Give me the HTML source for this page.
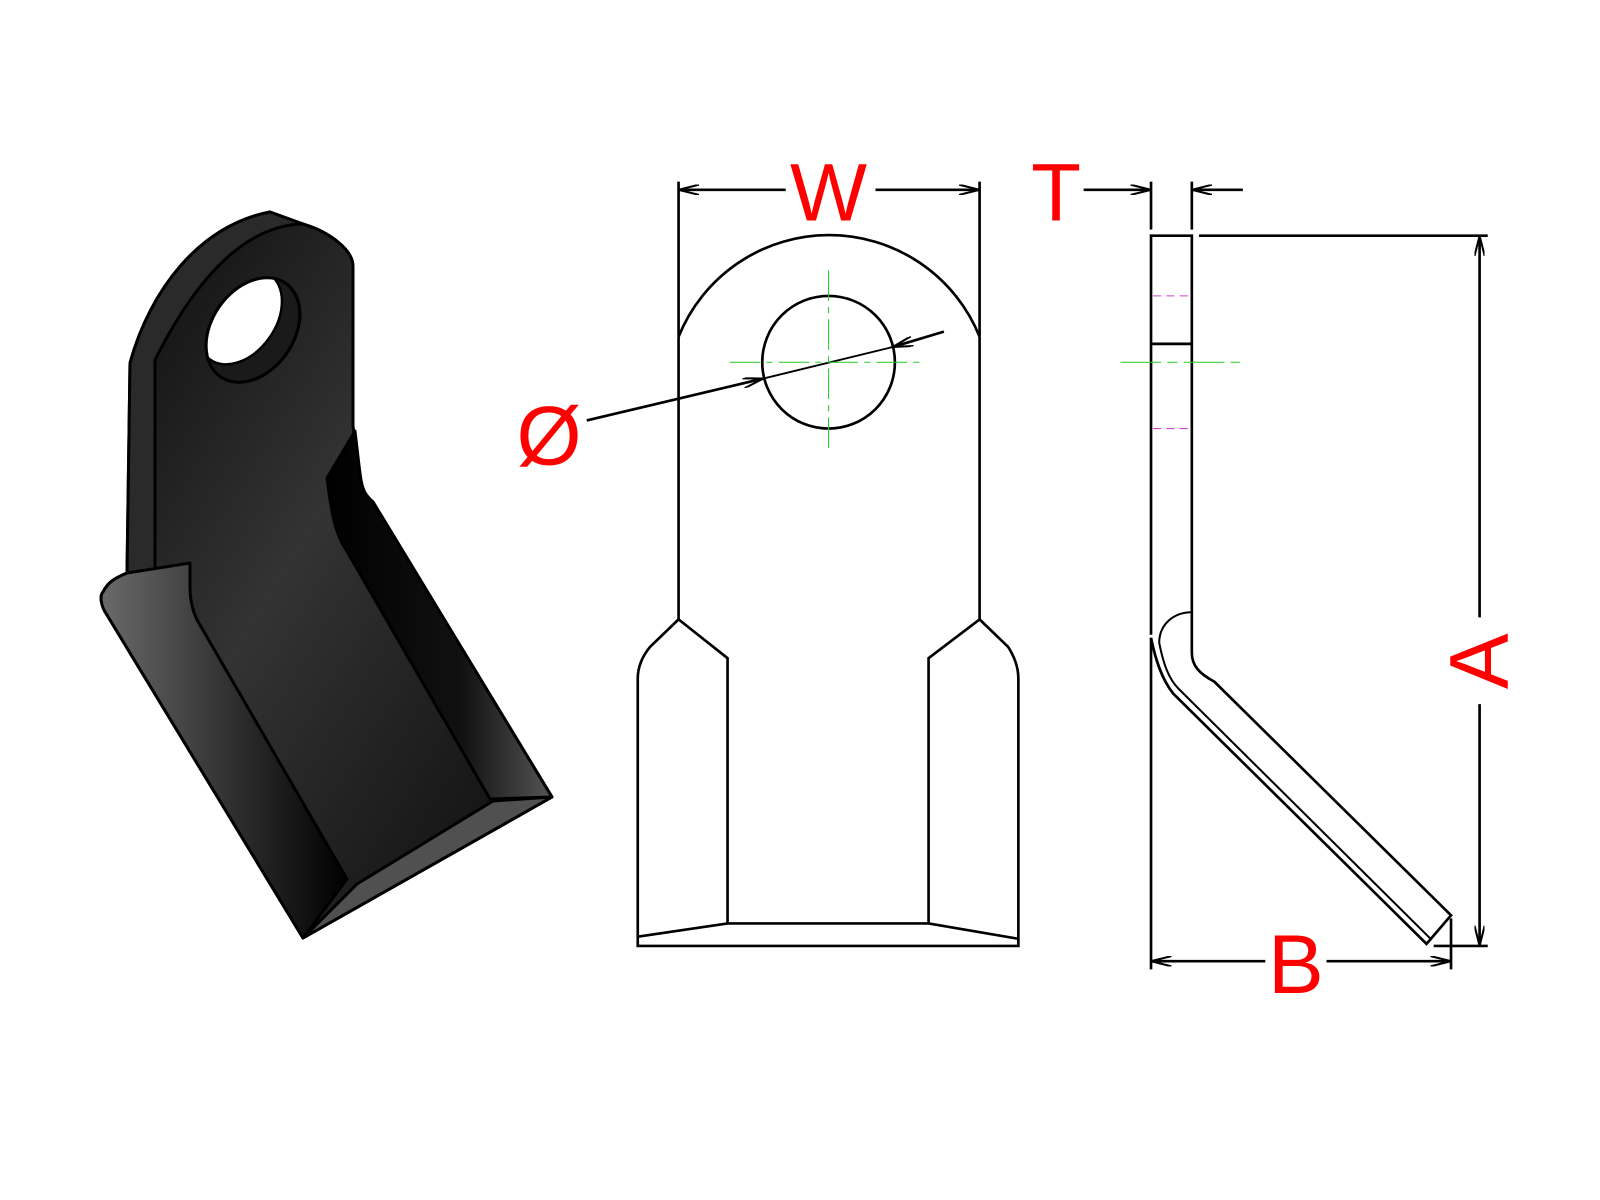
<!DOCTYPE html>
<html><head><meta charset="utf-8"><style>html,body{margin:0;padding:0;background:#fff}svg{display:block}</style></head>
<body>
<svg width="1600" height="1200" viewBox="0 0 1568 1176" xmlns="http://www.w3.org/2000/svg">
<defs>
<linearGradient id="gf" x1="0" y1="0" x2="1" y2="1"><stop offset="0" stop-color="#0a0a0a"/><stop offset="0.45" stop-color="#333"/><stop offset="1" stop-color="#0a0a0a"/></linearGradient>
<linearGradient id="gl" x1="0" y1="0" x2="1" y2="0"><stop offset="0" stop-color="#6a6a6a"/><stop offset="0.5" stop-color="#333"/><stop offset="1" stop-color="#000"/></linearGradient>
<linearGradient id="gr" x1="0" y1="0" x2="1" y2="0"><stop offset="0" stop-color="#000"/><stop offset="0.6" stop-color="#111"/><stop offset="1" stop-color="#555"/></linearGradient>
<clipPath id="hc"><ellipse cx="253" cy="330" rx="41" ry="57" transform="rotate(35 253 330)"/></clipPath>
<marker id="ar" viewBox="0 0 20 10" refX="20" refY="5" markerWidth="20" markerHeight="10" markerUnits="userSpaceOnUse" orient="auto"><path d="M0,0 L20,5 L0,10" fill="none" stroke="#000" stroke-width="2"/></marker>
</defs>

<!-- 3D view (original coords) -->
<g transform="scale(0.98)" stroke="#000" stroke-width="3" stroke-linejoin="round">
<path d="M130,363 C150,290 200,225 270,212 L303,224 C330,232 353,250 353,266 L353,426 L360,474 C362,490 365,495 373,502 L552,797 L303,938 L107,615 C100,605 100,595 103,592 C108,582 115,578 127,573 Z" fill="url(#gf)"/>
<path d="M130,363 C150,290 200,225 270,212 L303,224 C250,225 200,270 155,360 L155,572 L127,573 Z" fill="#2a2a2a"/>
<path d="M327,478 C330,500 333,530 345,548 L490,799 L552,797 L373,502 C365,495 362,490 360,474 L355,431 C345,448 335,465 327,478 Z" fill="url(#gr)"/>
<path d="M127,573 L190,563 L190,587 C190,605 195,617 200,625 L347,879 L303,938 L107,615 C100,605 100,595 103,592 C108,582 115,578 127,573 Z" fill="url(#gl)"/>
<path d="M303,938 L357,884 L493,801 L552,797 Z" fill="#505050"/>
<ellipse cx="253" cy="330" rx="41" ry="57" transform="rotate(35 253 330)" fill="#1a1a1a"/>
<g clip-path="url(#hc)"><ellipse cx="240" cy="317" rx="36" ry="52" transform="rotate(35 240 317)" fill="#fff" stroke="#000" stroke-width="2.5"/></g>
<ellipse cx="253" cy="330" rx="41" ry="57" transform="rotate(35 253 330)" fill="none"/>
</g>

<!-- front view -->
<g fill="none" stroke="#000" stroke-width="2.6">
<line x1="665" y1="178" x2="665" y2="330"/><line x1="960" y1="178" x2="960" y2="330"/>
<line x1="770" y1="186" x2="665" y2="186" marker-end="url(#ar)"/>
<line x1="858" y1="186" x2="960" y2="186" marker-end="url(#ar)"/>
<path d="M665,330 A159,159 0 0 1 960,330"/>
<path d="M665,330 L665,607 L637,634 C628,645 625,655 625,665 L625,927 L998,927 L998,665 C998,655 995,645 988,634 L960,607 L960,330"/>
<path d="M665,607 L713,645 L713,905 M960,607 L910,645 L910,905 M625,918 L713,905 L910,905 L998,920"/>
<circle cx="812" cy="355" r="65"/>
<line x1="575" y1="412" x2="748" y2="371" marker-end="url(#ar)"/>
<line x1="925" y1="325" x2="875" y2="340" marker-end="url(#ar)"/>
<line x1="748" y1="371" x2="875" y2="340" stroke-width="1.8"/>
</g>
<g stroke="#2c2" stroke-width="1" stroke-dasharray="30,6,6,6" fill="none">
<line x1="715" y1="355" x2="905" y2="355"/><line x1="812" y1="265" x2="812" y2="440"/>
</g>

<!-- side view -->
<g fill="none" stroke="#000" stroke-width="2.6">
<line x1="1128" y1="178" x2="1128" y2="225"/><line x1="1168" y1="178" x2="1168" y2="225"/>
<line x1="1062" y1="186" x2="1128" y2="186" marker-end="url(#ar)"/>
<line x1="1218" y1="186" x2="1168" y2="186" marker-end="url(#ar)"/>
<path d="M1128,622 L1128,231 L1168,231 L1168,640 C1168,652 1175,660 1190,668 L1422,897 L1398,925 L1150,680 C1138,665 1132,645 1128,625"/>
<path d="M1136,630 C1140,650 1145,665 1155,675 L1403,921" stroke-width="2"/>
<path d="M1136,630 C1136,612 1150,600 1168,600" stroke-width="2"/>
<line x1="1128" y1="337" x2="1168" y2="337"/>
<line x1="1128" y1="625" x2="1128" y2="950"/>
<line x1="1422" y1="900" x2="1422" y2="950"/>
<line x1="1240" y1="942" x2="1128" y2="942" marker-end="url(#ar)"/>
<line x1="1300" y1="942" x2="1422" y2="942" marker-end="url(#ar)"/>
<line x1="1175" y1="231" x2="1458" y2="231"/>
<line x1="1405" y1="927" x2="1458" y2="927"/>
<line x1="1450" y1="605" x2="1450" y2="231" marker-end="url(#ar)"/>
<line x1="1450" y1="690" x2="1450" y2="927" marker-end="url(#ar)"/>
</g>
<g stroke="#c4c" stroke-width="1" stroke-dasharray="8,5"><line x1="1130" y1="290" x2="1168" y2="290"/><line x1="1130" y1="420" x2="1168" y2="420"/></g>
<line x1="1098" y1="355" x2="1215" y2="355" stroke="#2c2" stroke-width="1" stroke-dasharray="40,6,10,6"/>

<!-- labels -->
<g fill="#f00" font-family="Liberation Sans, sans-serif">
<text x="812" y="216" font-size="80" text-anchor="middle">W</text>
<text x="1035" y="216" font-size="80" text-anchor="middle">T</text>
<text x="538" y="455" font-size="82" text-anchor="middle">Ø</text>
<text x="1270" y="973" font-size="82" text-anchor="middle">B</text>
<text x="0" y="0" font-size="82" text-anchor="middle" transform="translate(1478,648) rotate(-90)">A</text>
</g>
</svg>
</body></html>
